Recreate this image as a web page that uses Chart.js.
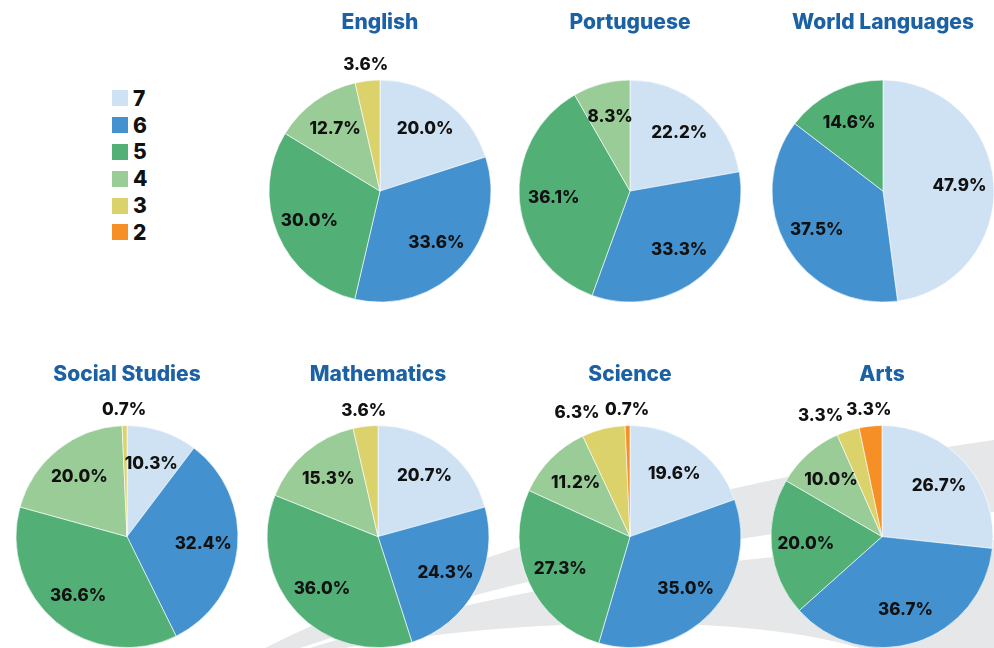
<!DOCTYPE html>
<html lang="en">
<head>
    <meta charset="UTF-8">
    <title>Score distribution by subject</title>
    <style>
        body {
            margin: 0;
            width: 994px;
            height: 648px;
            overflow: hidden;
            position: relative;
            background: #fff;
            font-family: Inter, "Open Sans", Arial, sans-serif;
        }
        #swoosh {
            position: absolute;
            left: 0;
            top: 0;
        }
        .pie {
            position: absolute;
        }
        .legend {
            position: absolute;
            left: 112px;
            top: 85px;
        }
        .legend-row {
            display: flex;
            align-items: center;
            height: 26.8px;
            font-size: 21px;
            font-weight: 800;
            color: #111;
        }
        .legend-row .box {
            width: 16px;
            height: 16px;
            margin-right: 5px;
        }
    </style>
</head>
<body>
    <svg id="swoosh" width="994" height="648">
        <path d="M 265 648 C 400 580, 650 490, 994 440 L 994 512 C 800 522, 560 560, 300 648 Z" fill="#e6e7e8"/>
        <path d="M 310 648 C 430 610, 620 560, 994 540 L 994 648 L 860 648 C 760 618, 560 612, 345 648 Z" fill="#e6e7e8"/>
    </svg>
    <div class="legend" id="legend"></div>

    <script src="https://cdn.jsdelivr.net/npm/chart.js"></script>
    <script>
        // score bands, drawn clockwise from 12 o'clock
        const scores = ['7', '6', '5', '4', '3', '2'];
        const scoreColors = ['#cfe2f3', '#4392cf', '#52b077', '#99cc96', '#dcd26c', '#f58f26'];

        // percentage of students per score (7, 6, 5, 4, 3, 2)
        const english = [20.0, 33.6, 30.0, 12.7, 3.6, 0];
        const portuguese = [22.2, 33.3, 36.1, 8.3, 0, 0];
        const worldLanguages = [47.9, 37.5, 14.6, 0, 0, 0];
        const socialStudies = [10.3, 32.4, 36.6, 20.0, 0.7, 0];
        const mathematics = [20.7, 24.3, 36.0, 15.3, 3.6, 0];
        const science = [19.6, 35.0, 27.3, 11.2, 6.3, 0.7];
        const arts = [26.7, 36.7, 20.0, 10.0, 3.3, 3.3];

        const subjects = ['English', 'Portuguese', 'World Languages', 'Social Studies', 'Mathematics', 'Science', 'Arts'];
        const subjectData = [english, portuguese, worldLanguages, socialStudies, mathematics, science, arts];

        // legend
        const legendEl = document.getElementById('legend');
        scores.forEach((s, i) => {
            const row = document.createElement('div');
            row.className = 'legend-row';
            row.innerHTML = `<span class="box" style="background:${scoreColors[i]}"></span><span>${s}</span>`;
            legendEl.appendChild(row);
        });

        // percentage labels: inside big slices, above small ones
        const sliceLabels = {
            id: 'sliceLabels',
            afterDatasetsDraw(chart) {
                const ctx = chart.ctx;
                const values = chart.data.datasets[0].data;
                ctx.save();
                ctx.font = '800 17px Inter, "Open Sans", Arial, sans-serif';
                ctx.fillStyle = '#111';
                ctx.textBaseline = 'middle';
                chart.getDatasetMeta(0).data.forEach((arc, i) => {
                    const v = values[i];
                    if (!v) return;
                    const p = arc.getProps(['x', 'y', 'startAngle', 'endAngle', 'outerRadius'], true);
                    const mid = (p.startAngle + p.endAngle) / 2;
                    const cos = Math.cos(mid), sin = Math.sin(mid);
                    let r = p.outerRadius * 0.69;
                    let align = 'center';
                    if (v < 7) {
                        r = p.outerRadius + 16;
                        if (cos < -0.15) align = 'right';
                        else if (cos > 0.15) align = 'left';
                    }
                    ctx.textAlign = align;
                    ctx.fillText(v.toFixed(1) + '%', p.x + cos * r, p.y + sin * r);
                });
                ctx.restore();
            }
        };

        // pie centres
        const centersX = [380, 630, 883, 127, 378, 630, 882];

        subjects.forEach((name, i) => {
            const topRow = i < 3;
            const canvas = document.createElement('canvas');
            canvas.className = 'pie';
            canvas.width = 250;
            canvas.height = topRow ? 330 : 296;
            canvas.style.left = (centersX[i] - 125) + 'px';
            canvas.style.top = (topRow ? 0 : 352) + 'px';
            document.body.appendChild(canvas);

            new Chart(canvas, {
                type: 'pie',
                data: {
                    labels: scores,
                    datasets: [{
                        data: subjectData[i],
                        backgroundColor: scoreColors,
                        borderColor: 'rgba(255,255,255,0.6)',
                        borderWidth: 1,
                        radius: 111
                    }]
                },
                options: {
                    responsive: false,
                    animation: false,
                    devicePixelRatio: 1,
                    layout: { padding: 0 },
                    plugins: {
                        legend: { display: false },
                        tooltip: { enabled: false },
                        title: {
                            display: true,
                            text: name,
                            color: '#1b61a4',
                            font: { family: 'Inter, "Open Sans", Arial, sans-serif', size: 21, weight: '800' },
                            padding: { top: 10, bottom: topRow ? 17 : 38 }
                        }
                    }
                },
                plugins: [sliceLabels]
            });
        });
    </script>
</body>
</html>
